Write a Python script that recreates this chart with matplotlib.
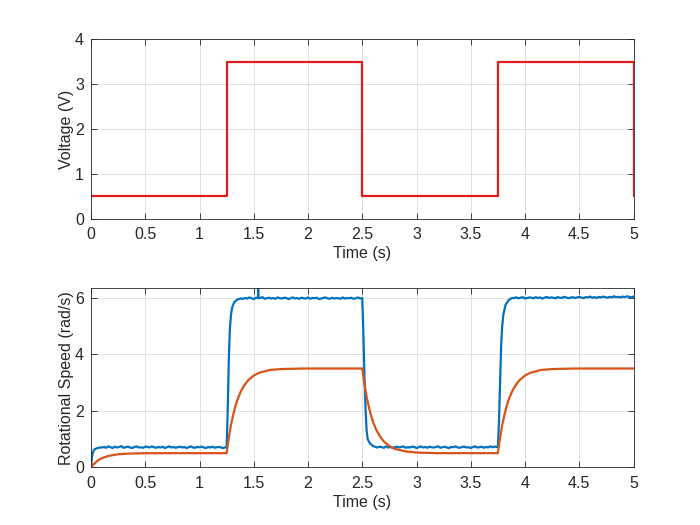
import numpy as np
import matplotlib
matplotlib.use("Agg")
import matplotlib.pyplot as plt

plt.rcParams['font.family'] = ['Liberation Sans', 'DejaVu Sans']
plt.rcParams['font.size'] = 11.5

# input voltage (square wave)
volt_t = [0, 1.25, 1.25, 2.5, 2.5, 3.75, 3.75, 5.0, 5.0]
volt_v = [0.5, 0.5, 3.5, 3.5, 0.5, 0.5, 3.5, 3.5, 0.5]

# model response (orange)
model_t = [0, 0.02, 0.04, 0.06, 0.08, 0.1, 0.13, 0.16, 0.2, 0.25, 0.3, 0.4, 0.5, 0.7, 1.25,
           1.27, 1.29, 1.31, 1.33, 1.35, 1.38, 1.41, 1.45, 1.5, 1.55, 1.65, 1.75, 1.95, 2.5,
           2.52, 2.54, 2.56, 2.58, 2.60, 2.63, 2.66, 2.70, 2.75, 2.80, 2.90, 3.0, 3.2, 3.75,
           3.77, 3.79, 3.81, 3.83, 3.85, 3.88, 3.91, 3.95, 4.0, 4.05, 4.15, 4.25, 4.45, 5.0]
model_v = [0, 0.09, 0.16, 0.23, 0.28, 0.32, 0.36, 0.40, 0.43, 0.46, 0.475, 0.49, 0.497, 0.5, 0.5,
           1.04, 1.50, 1.85, 2.15, 2.40, 2.68, 2.89, 3.09, 3.25, 3.35, 3.45, 3.48, 3.5, 3.5,
           2.96, 2.50, 2.15, 1.85, 1.60, 1.32, 1.11, 0.91, 0.75, 0.65, 0.56, 0.52, 0.5, 0.5,
           1.04, 1.50, 1.85, 2.15, 2.40, 2.68, 2.89, 3.09, 3.25, 3.35, 3.45, 3.48, 3.5, 3.5]

# measured speed (blue): transitions
start_t = [0, 0.01, 0.02, 0.03, 0.04, 0.06, 0.08]
start_v = [0, 0.40, 0.55, 0.62, 0.65, 0.68, 0.70]
rise1_t = [1.25, 1.26, 1.27, 1.28, 1.29, 1.30, 1.32, 1.35, 1.38]
rise1_v = [0.70, 2.0, 3.8, 4.9, 5.4, 5.65, 5.85, 5.95, 5.98]
spike_t = [1.538, 1.540, 1.542]
spike_v = [6.00, 6.80, 6.00]
drop_t = [2.50, 2.51, 2.52, 2.53, 2.54, 2.55, 2.57, 2.60]
drop_v = [6.00, 4.8, 3.3, 2.1, 1.3, 1.0, 0.85, 0.75]
rise2_t = [3.75, 3.76, 3.77, 3.78, 3.79, 3.80, 3.82, 3.85, 3.88]
rise2_v = [0.72, 1.6, 3.0, 4.3, 5.0, 5.4, 5.75, 5.93, 6.0]

# measured speed (blue): plateaus sampled every 0.02 s
low1_v = [0.70, 0.72, 0.69, 0.74, 0.71, 0.68, 0.73, 0.70, 0.72, 0.75,
          0.69, 0.71, 0.73, 0.70, 0.68, 0.72, 0.74, 0.70, 0.71, 0.69,
          0.73, 0.72, 0.70, 0.74, 0.71, 0.69, 0.72, 0.70, 0.73, 0.68,
          0.71, 0.74, 0.70, 0.72, 0.69, 0.71, 0.73, 0.70, 0.72, 0.68,
          0.71, 0.74, 0.70, 0.69, 0.72, 0.71, 0.73, 0.70, 0.68, 0.72,
          0.70, 0.73, 0.69, 0.71, 0.72, 0.70, 0.68, 0.71]          # 0.10 .. 1.24
high1_v = [5.97, 6.00, 5.98, 6.02, 5.99, 5.96, 6.01, 5.99, 6.00, 6.03,
           5.97, 5.99, 6.01, 5.98, 6.00, 5.97, 6.02, 5.99, 5.98, 6.01,
           6.00, 5.96, 5.99, 6.02, 5.98, 6.00, 5.97, 6.01, 5.99, 5.98,
           6.02, 5.97, 6.00, 5.99, 6.01, 5.96, 5.98, 6.00, 6.02, 5.99,
           5.97, 6.01, 5.98, 6.00, 5.99, 5.97, 6.02, 5.98, 6.00, 5.99,
           6.01, 5.97, 5.99, 6.02, 5.98]                                # 1.40 .. 2.48
low2_v = [0.72, 0.70, 0.73, 0.71, 0.69, 0.74, 0.70, 0.72, 0.68, 0.71,
          0.73, 0.70, 0.72, 0.74, 0.69, 0.71, 0.70, 0.73, 0.72, 0.68,
          0.71, 0.74, 0.70, 0.72, 0.69, 0.73, 0.71, 0.70, 0.72, 0.74,
          0.69, 0.71, 0.73, 0.70, 0.68, 0.72, 0.71, 0.74, 0.70, 0.69,
          0.72, 0.73, 0.70, 0.71, 0.68, 0.72, 0.74, 0.70, 0.71, 0.73,
          0.69, 0.72, 0.70, 0.74, 0.71, 0.73, 0.72]                     # 2.62 .. 3.74
high2_v = [6.00, 6.02, 5.99, 6.01, 6.03, 5.98, 6.00, 6.02, 6.01, 5.99,
           6.03, 6.00, 6.02, 5.98, 6.01, 6.04, 6.00, 6.02, 6.01, 5.99,
           6.03, 6.01, 6.00, 6.04, 6.02, 5.99, 6.01, 6.03, 6.00, 6.02,
           6.04, 6.01, 6.00, 6.03, 6.02, 6.05, 6.01, 6.03, 6.00, 6.04,
           6.02, 6.05, 6.03, 6.01, 6.04, 6.02, 6.06, 6.03, 6.04, 6.02,
           6.05, 6.03, 6.06, 6.04, 6.02, 6.05]                          # 3.90 .. 5.00


def seg_times(t0, t1, vals):
    return list(np.linspace(t0, t1, len(vals)))


speed_t = np.array(start_t + seg_times(0.10, 1.24, low1_v) + rise1_t
                   + seg_times(1.40, 2.48, high1_v) + spike_t + drop_t
                   + seg_times(2.62, 3.74, low2_v) + rise2_t
                   + seg_times(3.90, 5.00, high2_v))
speed_v = np.array(start_v + low1_v + rise1_v + high1_v + spike_v + drop_v
                   + low2_v + rise2_v + high2_v)
order = np.argsort(speed_t, kind='stable')
speed_t, speed_v = speed_t[order], speed_v[order]

blue = '#0072BD'
orange = '#D95319'
red = '#E21B1B'
dark = '#262626'


def style(ax):
    ax.grid(True, color='#dcdcdc', linewidth=0.6)
    ax.set_axisbelow(True)
    ax.tick_params(direction='in', length=4, top=True, right=True,
                   colors=dark, width=0.6)
    ax.tick_params(axis='x', pad=6)
    ax.tick_params(axis='y', pad=5)
    for s in ax.spines.values():
        s.set_color(dark)
        s.set_linewidth(0.6)
    ax.set_xlim(0, 5)
    ax.set_xticks(np.arange(0, 5.01, 0.5))
    ax.set_xticklabels(['0', '0.5', '1', '1.5', '2', '2.5', '3', '3.5',
                        '4', '4.5', '5'])
    ax.set_xlabel('Time (s)', color=dark, labelpad=3)


fig = plt.figure(figsize=(7, 5.25), dpi=100)
ax1 = fig.add_axes([0.13, 0.5838, 0.775, 0.3412])
ax2 = fig.add_axes([0.13, 0.11, 0.775, 0.3412])

ax1.plot(volt_t, volt_v, color=red, linewidth=1.6)
style(ax1)
ax1.set_ylim(0, 4)
ax1.set_yticks([0, 1, 2, 3, 4])
ax1.set_ylabel('Voltage (V)', color=dark, labelpad=1)

ax2.plot(speed_t, speed_v, color=blue, linewidth=1.6)
ax2.plot(model_t, model_v, color=orange, linewidth=1.6)
style(ax2)
ax2.set_ylim(0, 6.35)
ax2.set_yticks([0, 2, 4, 6])
ax2.set_ylabel('Rotational Speed (rad/s)', color=dark, labelpad=1)

fig.savefig('out.png', dpi=100)
